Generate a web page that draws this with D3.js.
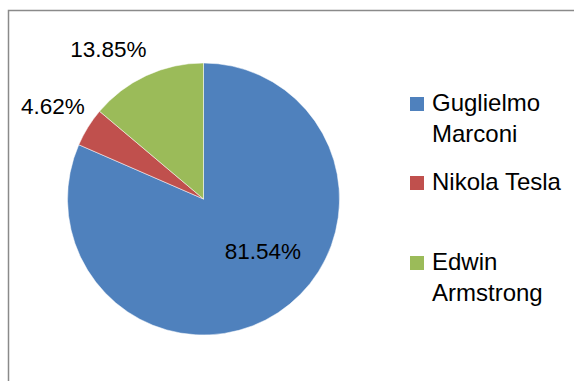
<!DOCTYPE html>
<meta charset="utf-8">
<html>
<head>
  <script src="https://d3js.org/d3.v7.min.js"></script>
  <style>
    body { margin: 0; background: #fff; }
    text { font-family: "Liberation Sans", Arial, sans-serif; fill: #000; }
  </style>
</head>
<body>
<div id="chart"></div>
<script>
  // data
  var names = ["Guglielmo Marconi", "Nikola Tesla", "Edwin Armstrong"];
  var shares = [81.54, 4.62, 13.85];
  var colors = ["#4F81BD", "#C0504D", "#9BBB59"];
  // legend lines (wrapped like the original)
  var legendLines = [["Guglielmo", "Marconi"], ["Nikola Tesla"], ["Edwin", "Armstrong"]];

  var W = 574, H = 381;
  var cx = 203.5, cy = 199, r = 136;

  var svg = d3.select("#chart").append("svg")
      .attr("width", W).attr("height", H);

  // chart frame (runs off right and bottom)
  svg.append("rect")
    .attr("x", 8.5).attr("y", 10.5)
    .attr("width", 700).attr("height", 500)
    .attr("fill", "none")
    .attr("stroke", "#8a8a8a")
    .attr("stroke-width", 1.5);

  var pie = d3.pie().sort(null).value(function(d) { return d; });
  var arcs = pie(shares);

  var arc = d3.arc().innerRadius(0).outerRadius(r);

  var g = svg.append("g").attr("transform", "translate(" + cx + "," + cy + ")");

  g.selectAll("path")
    .data(arcs)
    .enter().append("path")
      .attr("d", arc)
      .attr("fill", function(d, i) { return colors[i]; })
      .attr("stroke", "#fff")
      .attr("stroke-width", 0.5);

  // label placement: inside for the big slice, outside for the small ones
  var inArc = d3.arc().innerRadius(79).outerRadius(79);
  var outArc = d3.arc().innerRadius(r + 40).outerRadius(r + 40);
  var nudge = [[16, -14], [-1, 0], [-21, 10]];

  g.selectAll("text.pct")
    .data(arcs)
    .enter().append("text")
      .attr("class", "pct")
      .attr("text-anchor", "middle")
      .attr("dy", "0.35em")
      .attr("font-size", 22.5)
      .attr("transform", function(d, i) {
        var c = (i === 0 ? inArc : outArc).centroid(d);
        return "translate(" + (c[0] + nudge[i][0]) + "," + (c[1] + nudge[i][1]) + ")";
      })
      .text(function(d, i) { return shares[i].toFixed(2) + "%"; });

  // legend
  var legY = d3.scaleOrdinal().domain(names).range([111, 190, 270]);
  var leg = svg.append("g").selectAll("g")
    .data(names)
    .enter().append("g")
      .attr("transform", function(d) { return "translate(410," + legY(d) + ")"; });

  leg.append("rect")
    .attr("x", 0).attr("y", -14)
    .attr("width", 14).attr("height", 14)
    .attr("fill", function(d, i) { return colors[i]; });

  leg.append("text")
    .attr("x", 22)
    .attr("font-size", 24)
    .selectAll("tspan")
    .data(function(d, i) { return legendLines[i]; })
    .enter().append("tspan")
      .attr("x", 22)
      .attr("dy", function(d, j) { return j === 0 ? 0 : 31; })
      .text(function(d) { return d; });
</script>
</body>
</html>
